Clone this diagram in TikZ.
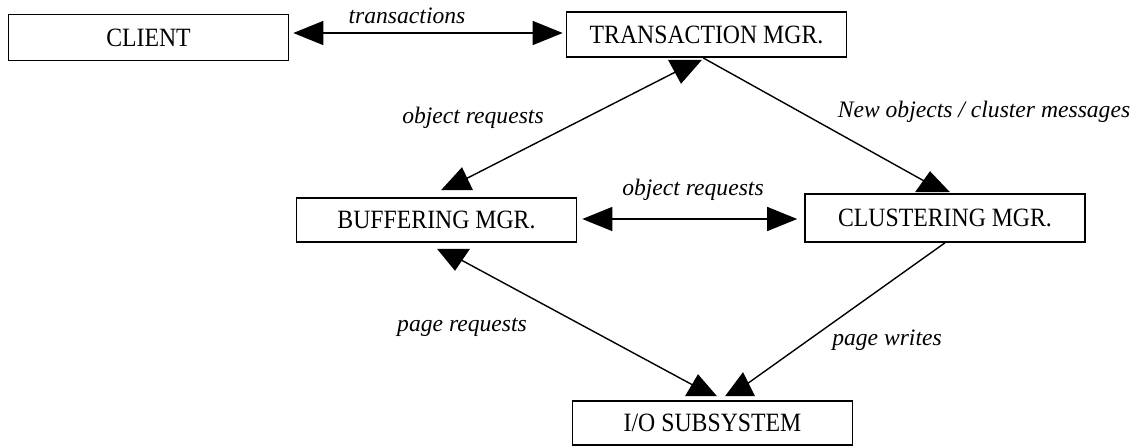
\documentclass[tikz,border=0pt]{standalone}
\usepackage{fontspec}
\setmainfont{Liberation Serif}
\newfontfamily\boxfont{Liberation Serif}[FakeStretch=0.9]
\usetikzlibrary{arrows.meta,calc}
\begin{document}
\begin{tikzpicture}[x=0.5pt,y=-0.5pt,
  box/.style={draw=black,line width=0.8pt,minimum width=140pt,minimum height=23pt,inner sep=0pt,
              font=\boxfont\fontsize{13.2}{15}\selectfont},
  lbl/.style={font=\itshape\fontsize{11.8}{14}\selectfont,inner sep=0pt},
  conn/.style={line width=0.7pt,draw=black},
  dbl/.style={conn,{Triangle[length=15pt,width=12pt]}-{Triangle[length=15pt,width=12pt]}},
  head/.style={fill=black}]
\useasboundingbox (0,0) rectangle (1142,446);

% boxes
\node[box] (client) at (148.5,37.5) {CLIENT};
\node[box, minimum height=22.5pt] (trans) at (706.5,34.5) {TRANSACTION MGR.};
\node[box, minimum height=22pt] (buf) at (436.5,220) {BUFFERING MGR.};
\node[box, minimum height=24pt] (clust) at (945,218) {CLUSTERING MGR.};
\node[box, minimum height=22pt] (io) at (712.5,423) {I/O SUBSYSTEM};

% arrowhead anchor points
\coordinate (t1) at ($(trans.south)+(-22.8,10)$);
\coordinate (t2) at ($(buf.north)+(22.2,-14.7)$);
\coordinate (t3) at ($(buf.south)+(17.5,13.3)$);
\coordinate (t4) at ($(io.north)+(-12.5,-11.3)$);
\coordinate (t5) at ($(io.north)+(28.5,-12)$);
\coordinate (t6) at ($(clust.north)+(-13.3,-8)$);

% connectors
\draw[dbl] ($(client.east)+(4,-4.5)$) -- ($(trans.west)+(-3,-1.5)$);
\draw[dbl] ($(buf.east)+(5,-1)$) -- ($(clust.west)+(-7,1)$);
\draw[conn] (t2) -- (t1);
\draw[conn] ($(trans.south)+(-3.5,0)$) -- (t6);
\draw[conn] (t3) -- (t4);
\draw[conn] (clust.south) -- (t5);

% arrowheads
\fill[head,shift={(t1)}] (-15.7,-8) -- (18.3,-8) -- (-2.7,16) -- cycle;
\fill[head,shift={(t2)}] (-17.7,7.7) -- (14.3,7.7) -- (3.3,-15.3) -- cycle;
\fill[head,shift={(t3)}] (-17,-7.3) -- (16,-7.3) -- (1,14.7) -- cycle;
\fill[head,shift={(t4)}] (-15,7.3) -- (17,7.3) -- (-2,-14.7) -- cycle;
\fill[head,shift={(t5)}] (-16,8) -- (14,8) -- (2,-16) -- cycle;
\fill[head,shift={(t6)}] (-16.7,7) -- (18.3,7) -- (-1.7,-14) -- cycle;

% labels
\node[lbl] (l1) at (407,16) {transactions};
\node[lbl] (l2) at (473,118) {object requests};
\node[lbl] (l3) at (984,112) {New objects / cluster messages};
\node[lbl] (l4) at (693,190) {object requests};
\node[lbl] (l5) at (462,327) {page requests};
\node[lbl] (l6) at (887,340) {page writes};
\end{tikzpicture}
\end{document}
